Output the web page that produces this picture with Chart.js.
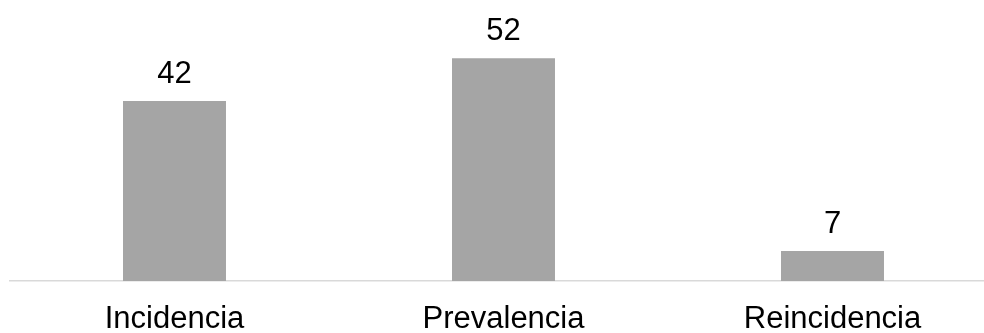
<!DOCTYPE html>
<html>
<head>
<meta charset="utf-8">
<script src="https://cdn.jsdelivr.net/npm/chart.js@4"></script>
<style>
    html, body { margin: 0; padding: 0; overflow: hidden; background: #fff; }
    #wrap { width: 997px; height: 358px; }
</style>
</head>
<body>
<div id="wrap"><canvas id="barChart"></canvas></div>
<script>
    const categories = ['Incidencia', 'Prevalencia', 'Reincidencia'];
    const values = [42, 52, 7];

    // Draw the number above each bar
    const valueLabels = {
        id: 'valueLabels',
        afterDatasetsDraw(chart) {
            const ctx = chart.ctx;
            const meta = chart.getDatasetMeta(0);
            ctx.save();
            ctx.font = '31px "Liberation Sans", Arial, sans-serif';
            ctx.fillStyle = '#000';
            ctx.textAlign = 'center';
            ctx.textBaseline = 'alphabetic';
            meta.data.forEach((bar, i) => {
                ctx.fillText(String(values[i]), bar.x, bar.y - 18);
            });
            ctx.restore();
        }
    };

    const ctx = document.getElementById('barChart').getContext('2d');
    new Chart(ctx, {
        type: 'bar',
        data: {
            labels: categories,
            datasets: [{
                data: values,
                backgroundColor: '#a5a5a5',
                borderWidth: 0,
                barPercentage: 0.313,
                categoryPercentage: 1
            }]
        },
        options: {
            responsive: true,
            maintainAspectRatio: false,
            animation: false,
            layout: { padding: { left: 10, right: 0, top: 24, bottom: 0 } },
            plugins: {
                legend: { display: false },
                tooltip: { enabled: false }
            },
            scales: {
                x: {
                    grid: { display: true, drawOnChartArea: false, drawTicks: false },
                    border: { display: true, color: '#d9d9d9', width: 1.5 },
                    ticks: {
                        color: '#000',
                        padding: 23,
                        font: { family: '"Liberation Sans", Arial, sans-serif', size: 31, lineHeight: 1 }
                    }
                },
                y: {
                    display: false,
                    min: 0,
                    max: 60
                }
            }
        },
        plugins: [valueLabels]
    });
</script>
</body>
</html>
